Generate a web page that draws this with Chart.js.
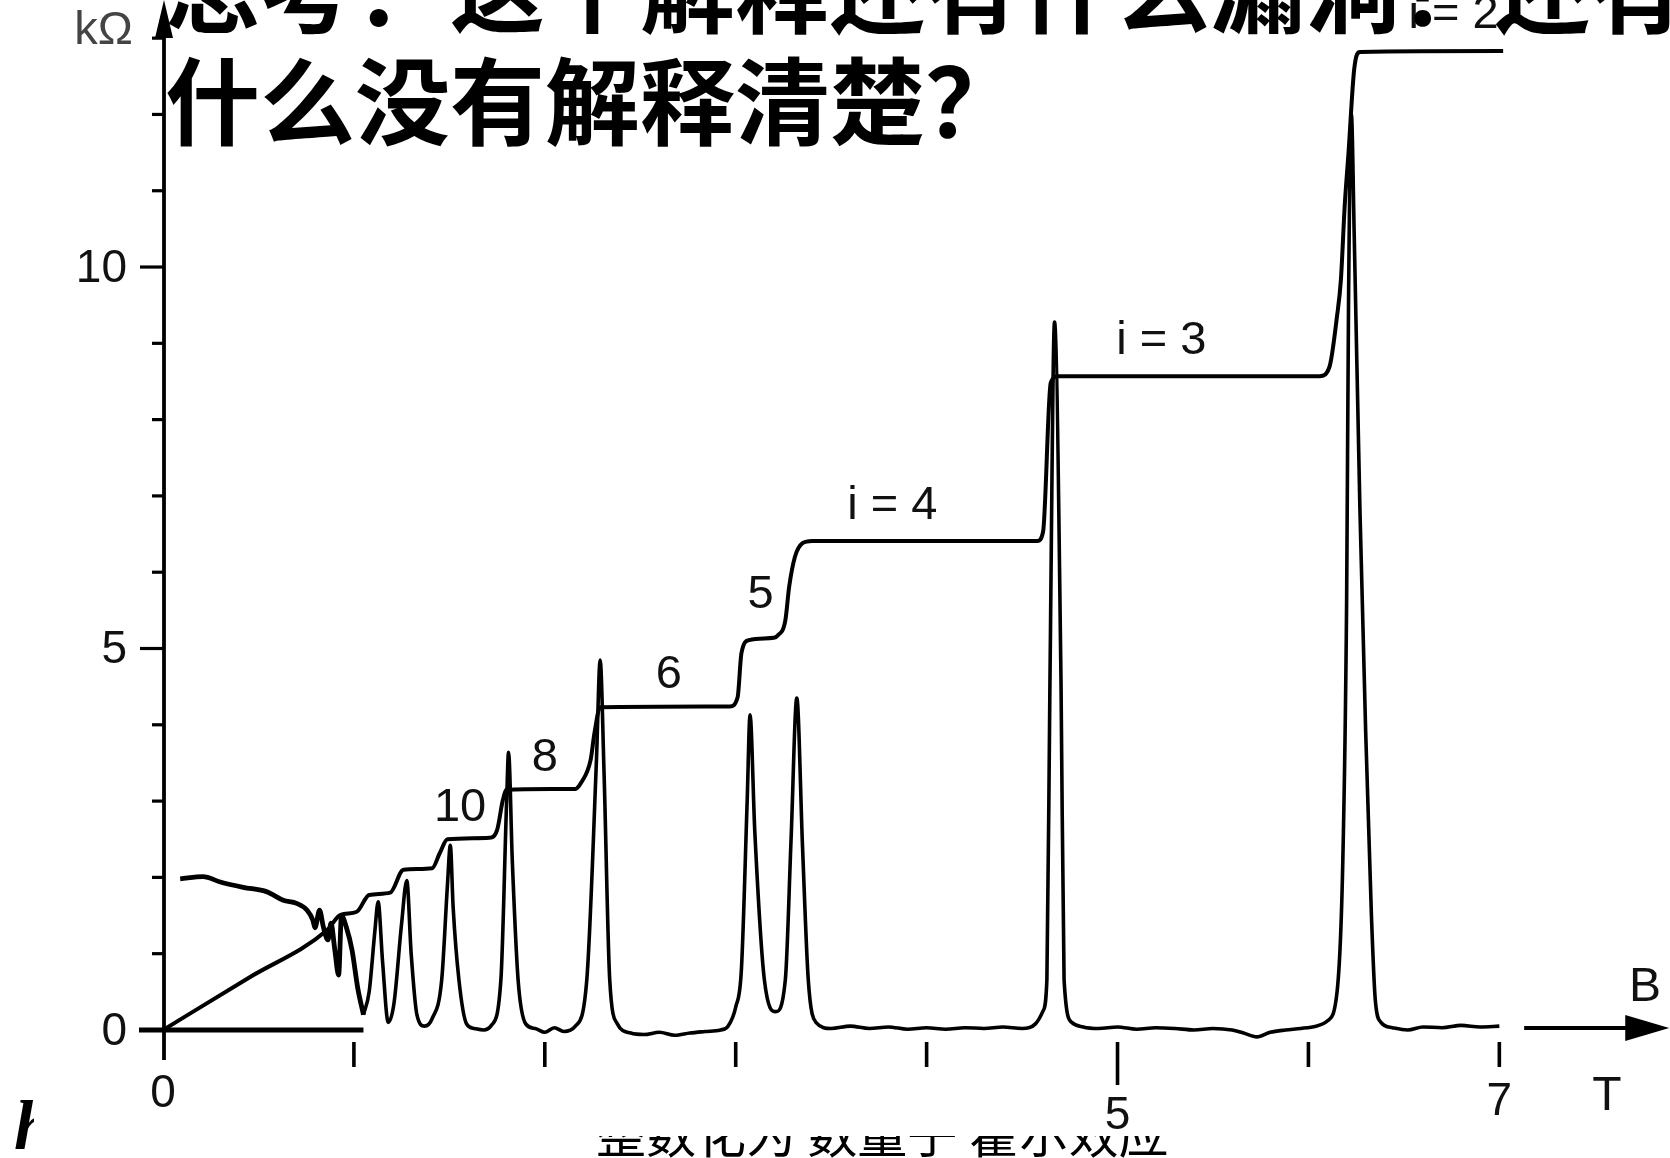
<!DOCTYPE html>
<html lang="zh">
<head>
<meta charset="utf-8">
<title>量子霍尔效应</title>
<script src="https://cdn.jsdelivr.net/npm/chart.js@4.4.1/dist/chart.umd.min.js"></script>
<style>
  html, body { margin: 0; padding: 0; background: #fff; }
  #wrap { position: relative; width: 1670px; height: 1158px; overflow: hidden; background: #fff; }
  #hall { position: absolute; left: 0; top: 0; }
  .title {
    position: absolute; left: 165px; top: -71px;
    font-family: "Noto Sans CJK SC", sans-serif; font-weight: 700;
    font-size: 95px; line-height: 112px; white-space: nowrap; color: #000;
  }
  .h-cut { position: absolute; left: 12px; top: 1100px; width: 22px; height: 58px; overflow: hidden; }
  .h-cut span { position: absolute; left: 2px; top: -14px; font: italic 700 70px "Liberation Serif", serif; }
  .foot { position: absolute; left: 0; top: 1136px; width: 1670px; height: 22px; overflow: hidden; }
  .foot span { position: absolute; top: -30px; font-family: "Noto Sans CJK SC", sans-serif; font-size: 50px; line-height: 50px; white-space: nowrap; }
</style>
</head>
<body>
<div id="wrap">
  <canvas id="hall" width="1670" height="1158"></canvas>
  <div class="title">思考：这个解释还有什么漏洞？还有<br>什么没有解释清楚？</div>
  <div class="h-cut"><span>h</span></div>
  <div class="foot"><span style="left:596px">整数化为 数量子 霍尔效应</span></div>
</div>
<script>
// Hall resistance rho_xy (kOhm) against B (T)
const hallB = [0, 0.45, 0.86, 0.93, 1.015, 1.08, 1.19, 1.26, 1.41, 1.45, 1.49,
  1.71, 1.75, 1.78, 1.80, 2.16, 2.19, 2.24, 2.26, 2.29, 2.97,
  3.01, 3.03, 3.07, 3.20, 3.22, 3.26, 3.28, 3.31, 3.35, 3.40,
  4.58, 4.61, 4.65, 4.69, 6.06, 6.11, 6.15, 6.17, 6.19, 6.21,
  6.24, 6.27, 7.02];
const hallR = [0, 0.685, 1.31, 1.51, 1.55, 1.77, 1.80, 2.10, 2.12, 2.32, 2.50,
  2.52, 2.62, 3.01, 3.15, 3.16, 3.24, 3.54, 3.89, 4.23, 4.24,
  4.36, 4.94, 5.11, 5.14, 5.17, 5.37, 5.81, 6.20, 6.38, 6.41,
  6.41, 6.53, 8.48, 8.57, 8.57, 8.69, 9.36, 9.83, 10.80, 11.50,
  12.60, 12.82, 12.83];

// longitudinal resistance rho_xx (kOhm), noisy low-field part
const rxxLowB = [0.09, 0.21, 0.30, 0.42, 0.545, 0.63, 0.70, 0.755, 0.785, 0.796,
  0.82, 0.84, 0.864, 0.88, 0.90, 0.92, 0.935, 0.96, 0.99, 1.02, 1.05];
const rxxLowR = [1.98, 2.01, 1.94, 1.87, 1.81, 1.70, 1.66, 1.57, 1.44, 1.34,
  1.57, 1.35, 1.18, 1.40, 1.05, 0.72, 1.50, 1.35, 1.05, 0.55, 0.20];

// longitudinal resistance rho_xx (kOhm), Shubnikov-de Haas peaks
const rxxB = [1.05, 1.08, 1.11,
  1.127, 1.15, 1.18, 1.21, 1.25, 1.277, 1.30, 1.33, 1.37, 1.41,
  1.46, 1.49, 1.505, 1.52, 1.55, 1.59, 1.63, 1.68, 1.72, 1.77,
  1.80, 1.81, 1.83, 1.86, 1.90, 1.95, 2.00, 2.05, 2.10, 2.16,
  2.22, 2.27, 2.29, 2.31, 2.34, 2.38, 2.45, 2.52, 2.60, 2.68,
  2.76, 2.84, 2.92, 2.96, 3.00, 3.03, 3.06, 3.075, 3.10, 3.15,
  3.21, 3.26, 3.29, 3.32, 3.35, 3.38, 3.42, 3.50, 3.60, 3.70,
  3.80, 3.90, 4.00, 4.10, 4.20, 4.30, 4.40, 4.50, 4.57, 4.61,
  4.63, 4.646, 4.67, 4.704, 4.72, 4.76, 4.82, 4.90, 5.00, 5.10,
  5.20, 5.30, 5.40, 5.50, 5.60, 5.66, 5.73, 5.80, 5.88, 5.96,
  6.04, 6.10, 6.15, 6.18, 6.20, 6.21, 6.225, 6.24, 6.27,
  6.30, 6.33, 6.35, 6.38, 6.44, 6.52, 6.60, 6.70, 6.80, 6.90,
  7.00];
const rxxR = [0.20, 0.50, 1.30,
  1.68, 0.90, 0.10, 0.35, 1.40, 1.96, 1.00, 0.20, 0.05, 0.15,
  0.66, 1.90, 2.42, 1.60, 0.66, 0.08, 0.02, 0.00, 0.06, 0.66,
  3.00, 3.64, 2.20, 0.66, 0.08, 0.02, -0.03, 0.03, -0.02, 0.05,
  0.66, 3.50, 4.85, 3.40, 0.66, 0.08, -0.04, -0.06, -0.03, -0.07,
  -0.04, -0.02, 0.00, 0.05, 0.30, 0.80, 3.00, 4.13, 2.60, 0.66,
  0.24, 0.66, 2.50, 4.35, 2.40, 0.66, 0.10, 0.02, 0.05, 0.02,
  0.04, 0.01, 0.03, 0.01, 0.03, 0.02, 0.04, 0.02, 0.08, 0.25,
  0.66, 4.56, 9.28, 4.56, 0.66, 0.10, 0.04, 0.02, 0.04, 0.01,
  0.03, 0.02, 0.00, 0.02, 0.00, -0.04, -0.09, -0.03, 0.00, 0.02,
  0.05, 0.12, 0.50, 2.20, 5.60, 9.50, 12.00, 10.40, 6.80,
  3.90, 1.50, 0.40, 0.10, 0.03, 0.00, 0.04, 0.03, 0.06, 0.04,
  0.05];

// axis ticks and labels
const yMinorTicks = [1, 2, 3, 4, 6, 7, 8, 9, 11, 12, 13];
const yTickLabels = [0, 5, 10];
const xTicks = [1, 2, 3, 4, 5, 6, 7];
const xTickLabels = [0, 5, 7];

// plateau labels (filling factor i)
const stepLabels = ["10", "8", "6", "5", "i = 4", "i = 3", "i = 2"];
const stepLabelB = [1.556, 2.00, 2.65, 3.13, 3.82, 5.23, 6.76];
const stepLabelR = [2.94, 3.59, 4.68, 5.73, 6.89, 9.05, 13.33];

const toPoints = (bs, rs) => bs.map((b, i) => ({ x: b, y: rs[i] }));

const axesPlugin = {
  id: "hallAxes",
  afterDatasetsDraw(chart) {
    const { ctx } = chart;
    const xs = chart.scales.x, ys = chart.scales.y;
    const x0 = xs.getPixelForValue(0);
    const y0 = ys.getPixelForValue(0);
    ctx.save();
    ctx.strokeStyle = "#000";
    ctx.fillStyle = "#000";
    ctx.lineCap = "butt";

    // vertical axis with arrow
    ctx.lineWidth = 3.8;
    ctx.beginPath();
    ctx.moveTo(x0 + 1, y0 + 30);
    ctx.lineTo(x0 + 1, 30);
    ctx.stroke();
    ctx.beginPath();
    ctx.moveTo(x0 + 1, 0);
    ctx.lineTo(x0 - 8, 38);
    ctx.lineTo(x0 + 10, 38);
    ctx.closePath();
    ctx.fill();

    // short horizontal axis piece near the origin
    ctx.lineWidth = 5;
    ctx.beginPath();
    ctx.moveTo(x0 - 24, y0);
    ctx.lineTo(xs.getPixelForValue(1.05), y0);
    ctx.stroke();

    // y ticks
    ctx.lineWidth = 3.2;
    yMinorTicks.forEach(v => {
      const py = ys.getPixelForValue(v);
      ctx.beginPath();
      ctx.moveTo(x0 - 11, py);
      ctx.lineTo(x0 + 1, py);
      ctx.stroke();
    });
    yTickLabels.filter(v => v > 0).forEach(v => {
      const py = ys.getPixelForValue(v);
      ctx.beginPath();
      ctx.moveTo(x0 - 23, py);
      ctx.lineTo(x0 + 1, py);
      ctx.stroke();
    });

    // x ticks, set a little below the axis
    ctx.lineWidth = 3.6;
    xTicks.forEach(v => {
      const px = xs.getPixelForValue(v);
      const len = v === 5 ? 43 : 25;
      ctx.beginPath();
      ctx.moveTo(px, y0 + 12);
      ctx.lineTo(px, y0 + 12 + len);
      ctx.stroke();
    });

    // tick labels
    ctx.font = "46px 'Liberation Sans', Arial, sans-serif";
    ctx.fillStyle = "#111";
    ctx.textBaseline = "middle";
    ctx.textAlign = "right";
    yTickLabels.forEach(v => {
      ctx.fillText(String(v), 127, ys.getPixelForValue(v) + 2);
    });
    ctx.textAlign = "center";
    xTickLabels.forEach(v => {
      const dy = v === 5 ? 86 : v === 7 ? 72 : 64;
      ctx.fillText(String(v), xs.getPixelForValue(v), y0 + dy);
    });

    // units
    ctx.fillStyle = "#444";
    ctx.font = "47px 'Liberation Sans', Arial, sans-serif";
    ctx.textAlign = "right";
    ctx.fillText("kΩ", 133, 31);

    // field arrow B / T
    ctx.strokeStyle = "#000";
    ctx.fillStyle = "#000";
    ctx.lineWidth = 4;
    const ax1 = xs.getPixelForValue(7.13);
    const ax2 = xs.getPixelForValue(7.89);
    ctx.beginPath();
    ctx.moveTo(ax1, y0 - 2);
    ctx.lineTo(ax2 - 40, y0 - 2);
    ctx.stroke();
    ctx.beginPath();
    ctx.moveTo(ax2, y0 - 2);
    ctx.lineTo(ax2 - 44, y0 - 15);
    ctx.lineTo(ax2 - 44, y0 + 11);
    ctx.closePath();
    ctx.fill();
    ctx.font = "48px 'Liberation Sans', Arial, sans-serif";
    ctx.textAlign = "center";
    ctx.fillStyle = "#111";
    ctx.fillText("B", 1645, 988);
    ctx.fillText("T", 1607, 1097);

    // plateau labels
    ctx.font = "47px 'Liberation Sans', Arial, sans-serif";
    stepLabels.forEach((t, i) => {
      ctx.fillText(t, xs.getPixelForValue(stepLabelB[i]), ys.getPixelForValue(stepLabelR[i]) + 2);
    });
    ctx.restore();
  }
};

const traceStyle = (width) => ({
  borderColor: "#000",
  borderWidth: width,
  pointRadius: 0,
  cubicInterpolationMode: "monotone",
  fill: false,
});

new Chart(document.getElementById("hall").getContext("2d"), {
  type: "line",
  data: {
    datasets: [
      { label: "ρxy", data: toPoints(hallB, hallR), ...traceStyle(4) },
      { label: "ρxx low field", data: toPoints(rxxLowB, rxxLowR), ...traceStyle(4.8) },
      { label: "ρxx", data: toPoints(rxxB, rxxR), ...traceStyle(3.6) },
    ],
  },
  options: {
    responsive: false,
    animation: false,
    devicePixelRatio: 1,
    layout: { padding: { left: 163, right: 0, top: 0, bottom: 0 } },
    plugins: { legend: { display: false }, tooltip: { enabled: false } },
    scales: {
      x: { type: "linear", min: 0, max: 7.894, display: false },
      y: { type: "linear", min: -1.678, max: 13.5, display: false },
    },
  },
  plugins: [axesPlugin],
});
</script>
</body>
</html>
